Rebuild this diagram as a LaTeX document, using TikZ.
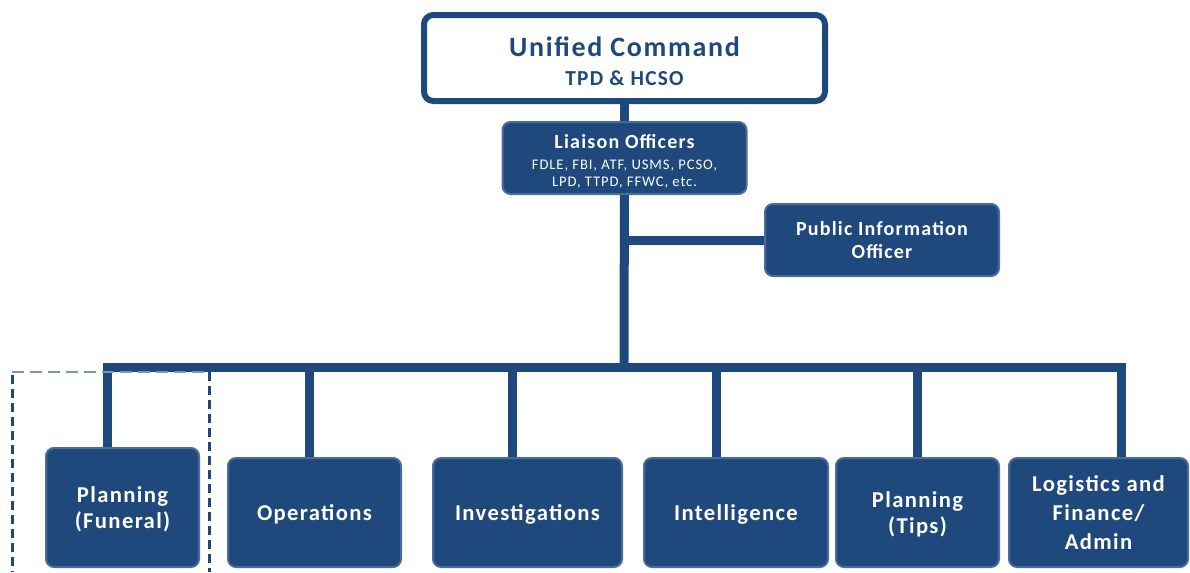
\documentclass[tikz,border=0pt]{standalone}
\usepackage{fontspec}
\setmainfont{Carlito}[LetterSpace=6]
\usetikzlibrary{positioning}
\definecolor{cmdblue}{HTML}{1F497D}
\definecolor{rimblue}{HTML}{4A6C9B}
\definecolor{framegray}{HTML}{7D95B8}
\tikzset{block/.style={draw=rimblue, line width=1.5pt, fill=cmdblue, text=white, rectangle,
		rounded corners=6pt, inner sep=0pt, align=center, minimum height=81.75pt, text depth=0pt,
		font=\bfseries\fontsize{17}{20}\selectfont},
	topblock/.style={draw=cmdblue, line width=4.5pt, fill=white, text=cmdblue, rectangle,
		rounded corners=7pt, inner sep=0pt, align=center},
	link/.style={draw, cmdblue, line width=6.75pt},
	dashframe/.style={draw, cmdblue, line width=2.25pt, dash pattern=on 6.75pt off 3.75pt},
	dashtop/.style={draw, framegray, line width=1.1pt, dash pattern=on 9pt off 4.5pt}}
\begin{document}
\begin{tikzpicture}[x=0.75pt,y=-0.75pt]
		\useasboundingbox (0,0) rectangle (1190,572);
		\node [topblock, minimum width=300.75pt, minimum height=64.5pt,
		font=\bfseries\fontsize{16}{22}\selectfont](unified) at (624.5,58)
		{\rule{0pt}{20pt}{\fontsize{21}{22}\selectfont Unified Command}\\TPD \& HCSO};
		\node [block, below of=unified, node distance=75pt, minimum width=183pt, minimum height=54pt,
		text depth=, font=\fontsize{11}{12.75}\selectfont](liaison)
		{\rule{0pt}{15.5pt}{\bfseries\fontsize{15}{12.75}\selectfont Liaison Officers}\\[3pt]FDLE, FBI, ATF, USMS, PCSO,\\LPD, TTPD, FFWC, etc.};
		\node [block, minimum width=175.5pt, minimum height=54pt,
		font=\bfseries\fontsize{15}{17.25}\selectfont](pio) at (882,240){Public Information\\Officer};
		\coordinate (hub) at (624,367);
		
		\node [block, minimum width=114.75pt, minimum height=89.25pt, font=\bfseries\fontsize{17}{19.5}\selectfont](funeral) at (122.5,507.5){Planning\\(Funeral)};
		\node [block, minimum width=129.75pt](operations) at (314.5,512.5){Operations};
		\node [block, minimum width=141.75pt](investigations) at (527.5,512.5){Investigations};
		\node [block, minimum width=138pt](intelligence) at (736,512.5){Intelligence};
		\node [block, minimum width=122.25pt](tips) at (917.5,512.5){Planning\\(Tips)};
		\node [block, minimum width=134.25pt, font=\bfseries\fontsize{17}{22}\selectfont](logistics) at (1098.5,512.5){Logistics and\\Finance/\\Admin};
		
		\draw [link] (unified)--(liaison);
		\draw [link] (liaison)--(hub);
		\draw [link] (liaison.south |- pio.west)--(pio.west);
		\draw [link] (hub) -| ([xshift=-11.6pt]funeral.north);
		\draw [link] (hub) -| ([xshift=-4.1pt]operations.north);
		\draw [link] (hub) -| ([xshift=-10.9pt]investigations.north);
		\draw [link] (hub) -| ([xshift=-15pt]intelligence.north);
		\draw [link] (hub) -| (tips.north);
		\draw [link] (hub) -| ([xshift=16.9pt]logistics.north);
		
		\draw [dashtop] (12,372)--(209,372);
		\draw [dashframe] (12,375)--(12,572);
		\draw [dashframe] (209,372)--(209,572);
	\end{tikzpicture}
\end{document}
